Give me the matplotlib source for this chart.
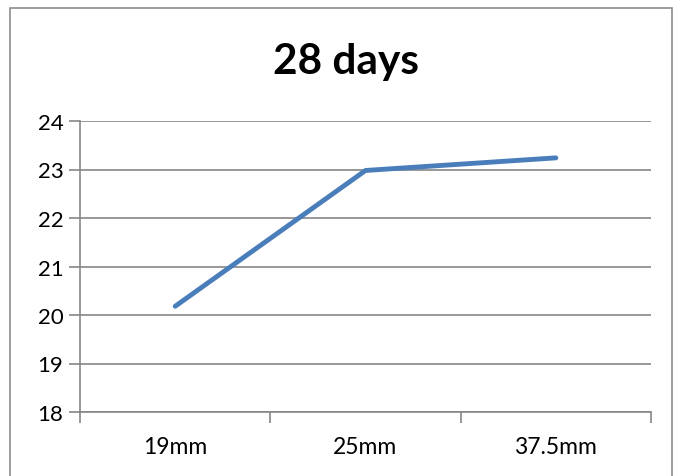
import matplotlib.pyplot as plt
from matplotlib.patches import Rectangle

categories = ['19mm', '25mm', '37.5mm']
values = [20.18, 22.98, 23.24]
yticks = [18, 19, 20, 21, 22, 23, 24]

plt.rcParams['font.family'] = ['Lato', 'DejaVu Sans']

W, H = 684, 477
fig = plt.figure(figsize=(W / 100, H / 100), dpi=100)

# chart frame
fig.patches.append(Rectangle((10 / W, -0.05), 662 / W, 1.05 - 9 / H,
                             transform=fig.transFigure, fill=False,
                             edgecolor='#8c8c8c', linewidth=1.2))

ax = fig.add_axes([80 / W, 1 - 413 / H, 571 / W, 291 / H])
x = list(range(len(categories)))
ax.plot(x, values, color='#4A7EBB', linewidth=3.5, solid_capstyle='round',
        solid_joinstyle='round', zorder=3)

ax.set_xlim(-0.5, len(categories) - 0.5)
ax.set_ylim(18, 24)
ax.set_yticks(yticks)
ax.set_yticklabels([str(v) for v in yticks], fontsize=16)
ax.grid(axis='y', color='#868686', linewidth=1.2)
ax.set_axisbelow(True)

ax.set_xticks(x)
ax.set_xticklabels(categories, fontsize=16.5)
ax.set_xticks([i - 0.5 for i in range(len(categories) + 1)], minor=True)
ax.tick_params(axis='x', which='major', length=0, pad=17)
ax.tick_params(axis='x', which='minor', length=8, color='#868686', width=1.2)
ax.tick_params(axis='y', length=8, color='#868686', width=1.2, pad=4)

for s in ['top', 'right']:
    ax.spines[s].set_visible(False)
for s in ['left', 'bottom']:
    ax.spines[s].set_color('#868686')
    ax.spines[s].set_linewidth(1.2)

fig.text(346 / W, 1 - 62 / H, '28 days', ha='center', va='center',
         fontsize=30.5, fontweight='bold')

fig.savefig('out.png', dpi=100)
